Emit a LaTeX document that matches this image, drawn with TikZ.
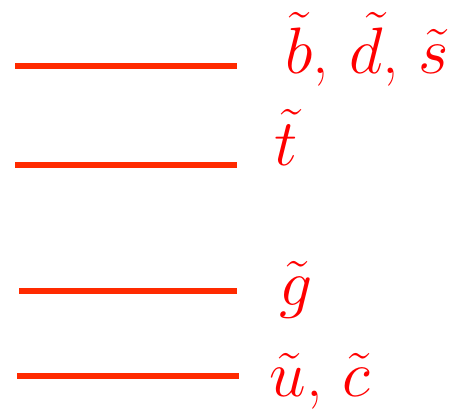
\documentclass[tikz,border=0pt]{standalone}
\usetikzlibrary{positioning}
\definecolor{levelred}{HTML}{FF2A00}

\begin{document}
\begin{tikzpicture}[
x=0.5pt, y=-0.5pt,
font=\Huge,
level/.style={draw=levelred, line width=2.6pt},
lbl/.style={anchor=base west, inner sep=0pt, text=red, scale=1.32}
]
\useasboundingbox (0,0) rectangle (460,412);
% levels, top to bottom
\draw[level] (15,66) coordinate (bds-l) -- (237,66) coordinate (bds-r);
\draw[level] (15,165) coordinate (t-l) -- (237,165) coordinate (t-r);
\draw[level] (19,291) coordinate (g-l) -- (237,291) coordinate (g-r);
\draw[level] (17,376) coordinate (uc-l) -- (239,376) coordinate (uc-r);
% labels
\node[lbl] (bds) at (285,73) {$\tilde b$, $\tilde d$, $\tilde s$};
\node[lbl] (t) at (274,165) {$\tilde t$};
\node[lbl] (g) at (279,305) {$\tilde g$};
\node[lbl] (uc) at (269,396) {$\tilde u$, $\tilde c$};
\end{tikzpicture}
\end{document}
